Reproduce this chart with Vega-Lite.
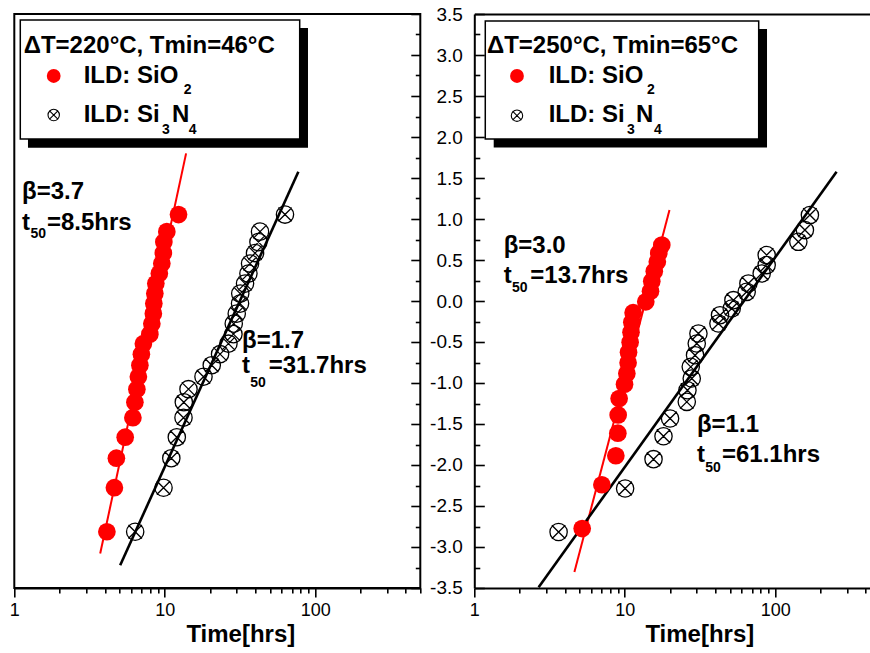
{
  "$schema": "https://vega.github.io/schema/vega-lite/v6.json",
  "padding": {"left": 7.3, "top": 5, "right": 0, "bottom": 0},
  "background": "white",
  "config": {
    "view": {"stroke": "black", "strokeWidth": 2},
    "font": "Liberation Sans",
    "axis": {"domainColor": "black", "tickColor": "black", "labelColor": "black", "titleColor": "black", "labelFont": "Liberation Sans", "titleFont": "Liberation Sans", "grid": false},
    "text": {"font": "Liberation Sans"}
  },
  "datasets": {
    "L_pts": [
      {"material": "SiO2", "t": 4.126, "W": -2.814},
      {"material": "SiO2", "t": 4.628, "W": -2.277},
      {"material": "SiO2", "t": 4.771, "W": -1.917},
      {"material": "SiO2", "t": 5.459, "W": -1.661},
      {"material": "SiO2", "t": 6.142, "W": -1.423},
      {"material": "SiO2", "t": 6.333, "W": -1.234},
      {"material": "SiO2", "t": 6.529, "W": -1.075},
      {"material": "SiO2", "t": 6.680, "W": -0.923},
      {"material": "SiO2", "t": 6.835, "W": -0.783},
      {"material": "SiO2", "t": 6.994, "W": -0.648},
      {"material": "SiO2", "t": 7.211, "W": -0.520},
      {"material": "SiO2", "t": 7.962, "W": -0.404},
      {"material": "SiO2", "t": 8.209, "W": -0.276},
      {"material": "SiO2", "t": 8.400, "W": -0.154},
      {"material": "SiO2", "t": 8.465, "W": -0.032},
      {"material": "SiO2", "t": 8.596, "W": 0.090},
      {"material": "SiO2", "t": 8.728, "W": 0.212},
      {"material": "SiO2", "t": 9.208, "W": 0.334},
      {"material": "SiO2", "t": 9.565, "W": 0.456},
      {"material": "SiO2", "t": 9.788, "W": 0.584},
      {"material": "SiO2", "t": 9.863, "W": 0.718},
      {"material": "SiO2", "t": 10.325, "W": 0.846},
      {"material": "SiO2", "t": 12.35, "W": 1.054},
      {"material": "Si3N4", "t": 6.362, "W": -2.814},
      {"material": "Si3N4", "t": 9.818, "W": -2.277},
      {"material": "Si3N4", "t": 11.06, "W": -1.917},
      {"material": "Si3N4", "t": 12.03, "W": -1.661},
      {"material": "Si3N4", "t": 13.33, "W": -1.423},
      {"material": "Si3N4", "t": 13.39, "W": -1.234},
      {"material": "Si3N4", "t": 14.39, "W": -1.075},
      {"material": "Si3N4", "t": 18.10, "W": -0.923},
      {"material": "Si3N4", "t": 20.54, "W": -0.783},
      {"material": "Si3N4", "t": 23.33, "W": -0.648},
      {"material": "Si3N4", "t": 26.52, "W": -0.520},
      {"material": "Si3N4", "t": 28.63, "W": -0.404},
      {"material": "Si3N4", "t": 28.76, "W": -0.276},
      {"material": "Si3N4", "t": 30.11, "W": -0.154},
      {"material": "Si3N4", "t": 31.67, "W": -0.032},
      {"material": "Si3N4", "t": 31.77, "W": 0.090},
      {"material": "Si3N4", "t": 34.19, "W": 0.212},
      {"material": "Si3N4", "t": 36.01, "W": 0.334},
      {"material": "Si3N4", "t": 36.92, "W": 0.456},
      {"material": "Si3N4", "t": 39.84, "W": 0.584},
      {"material": "Si3N4", "t": 41.97, "W": 0.718},
      {"material": "Si3N4", "t": 43.00, "W": 0.846},
      {"material": "Si3N4", "t": 63.02, "W": 1.054}
    ],
    "R_pts": [
      {"material": "SiO2", "t": 5.213, "W": -2.775},
      {"material": "SiO2", "t": 7.047, "W": -2.241},
      {"material": "SiO2", "t": 8.728, "W": -1.887},
      {"material": "SiO2", "t": 9.000, "W": -1.612},
      {"material": "SiO2", "t": 9.042, "W": -1.389},
      {"material": "SiO2", "t": 9.180, "W": -1.189},
      {"material": "SiO2", "t": 9.970, "W": -1.014},
      {"material": "SiO2", "t": 10.33, "W": -0.884},
      {"material": "SiO2", "t": 10.53, "W": -0.752},
      {"material": "SiO2", "t": 10.60, "W": -0.624},
      {"material": "SiO2", "t": 10.86, "W": -0.502},
      {"material": "SiO2", "t": 11.01, "W": -0.380},
      {"material": "SiO2", "t": 11.15, "W": -0.258},
      {"material": "SiO2", "t": 11.37, "W": -0.142},
      {"material": "SiO2", "t": 13.80, "W": -0.010},
      {"material": "SiO2", "t": 14.84, "W": 0.120},
      {"material": "SiO2", "t": 15.13, "W": 0.242},
      {"material": "SiO2", "t": 15.72, "W": 0.364},
      {"material": "SiO2", "t": 16.47, "W": 0.480},
      {"material": "SiO2", "t": 16.84, "W": 0.584},
      {"material": "SiO2", "t": 17.64, "W": 0.682},
      {"material": "Si3N4", "t": 3.634, "W": -2.817},
      {"material": "Si3N4", "t": 10.06, "W": -2.287},
      {"material": "Si3N4", "t": 15.54, "W": -1.929},
      {"material": "Si3N4", "t": 18.10, "W": -1.649},
      {"material": "Si3N4", "t": 20.02, "W": -1.433},
      {"material": "Si3N4", "t": 25.85, "W": -1.230},
      {"material": "Si3N4", "t": 26.12, "W": -1.088},
      {"material": "Si3N4", "t": 27.89, "W": -0.945},
      {"material": "Si3N4", "t": 27.47, "W": -0.803},
      {"material": "Si3N4", "t": 29.34, "W": -0.661},
      {"material": "Si3N4", "t": 30.11, "W": -0.518},
      {"material": "Si3N4", "t": 30.90, "W": -0.396},
      {"material": "Si3N4", "t": 41.97, "W": -0.274},
      {"material": "Si3N4", "t": 43.00, "W": -0.173},
      {"material": "Si3N4", "t": 51.43, "W": -0.091},
      {"material": "Si3N4", "t": 52.77, "W": 0.010},
      {"material": "Si3N4", "t": 64.68, "W": 0.112},
      {"material": "Si3N4", "t": 66.38, "W": 0.214},
      {"material": "Si3N4", "t": 81.36, "W": 0.336},
      {"material": "Si3N4", "t": 87.82, "W": 0.438},
      {"material": "Si3N4", "t": 87.82, "W": 0.560},
      {"material": "Si3N4", "t": 142.6, "W": 0.722},
      {"material": "Si3N4", "t": 157.7, "W": 0.865},
      {"material": "Si3N4", "t": 170.2, "W": 1.048}
    ],
    "L_lines": [
      {"material": "SiO2", "t": 3.724, "W": -3.080},
      {"material": "SiO2", "t": 13.87, "W": 1.800},
      {"material": "Si3N4", "t": 5.056, "W": -3.223},
      {"material": "Si3N4", "t": 77.34, "W": 1.576}
    ],
    "R_lines": [
      {"material": "SiO2", "t": 4.628, "W": -3.305},
      {"material": "SiO2", "t": 19.84, "W": 1.109},
      {"material": "Si3N4", "t": 2.677, "W": -3.49},
      {"material": "Si3N4", "t": 256.1, "W": 1.576}
    ],
    "L_box": [
      {"part": "shadow", "t1": 1.233, "t2": 89.62, "W1": 3.329, "W2": 1.870},
      {"part": "box", "t1": 1.096, "t2": 78.93, "W1": 3.427, "W2": 1.976}
    ],
    "R_box": [
      {"part": "shadow", "t1": 1.346, "t2": 88.28, "W1": 3.317, "W2": 1.872},
      {"part": "box", "t1": 1.183, "t2": 77.73, "W1": 3.415, "W2": 1.976}
    ],
    "L_sym": [
      {"material": "SiO2", "t": 1.828, "W": 2.744},
      {"material": "Si3N4", "t": 1.828, "W": 2.268}
    ],
    "R_sym": [
      {"material": "SiO2", "t": 1.922, "W": 2.744},
      {"material": "Si3N4", "t": 1.922, "W": 2.260}
    ],
    "L_text": [
      {"role": "legend", "label": "ΔT=220°C, Tmin=46°C", "t": 1.155, "W": 3.021},
      {"role": "legend", "label": "ILD: SiO", "t": 2.893, "W": 2.655},
      {"role": "legend", "label": "ILD: Si", "t": 2.893, "W": 2.179},
      {"role": "legend", "label": "N", "t": 11.18, "W": 2.179},
      {"role": "legend_sub", "label": "2", "t": 13.37, "W": 2.524},
      {"role": "legend_sub", "label": "3", "t": 9.592, "W": 2.037},
      {"role": "legend_sub", "label": "4", "t": 14.43, "W": 2.037},
      {"role": "note", "label": "β=3.7", "t": 1.125, "W": 1.244},
      {"role": "note", "label": "t", "t": 1.125, "W": 0.866},
      {"role": "note", "label": "=8.5hrs", "t": 1.650, "W": 0.866},
      {"role": "note", "label": "β=1.7", "t": 32.64, "W": -0.577},
      {"role": "note", "label": "t", "t": 32.64, "W": -0.882},
      {"role": "note", "label": "=31.7hrs", "t": 49.12, "W": -0.882},
      {"role": "note_sub", "label": "50", "t": 1.281, "W": 0.768},
      {"role": "note_sub", "label": "50", "t": 37.06, "W": -1.045}
    ],
    "R_text": [
      {"role": "legend", "label": "ΔT=250°C, Tmin=65°C", "t": 1.214, "W": 3.021},
      {"role": "legend", "label": "ILD: SiO", "t": 3.123, "W": 2.655},
      {"role": "legend", "label": "ILD: Si", "t": 3.123, "W": 2.179},
      {"role": "legend", "label": "N", "t": 11.88, "W": 2.179},
      {"role": "legend_sub", "label": "2", "t": 14.06, "W": 2.524},
      {"role": "legend_sub", "label": "3", "t": 10.35, "W": 2.037},
      {"role": "legend_sub", "label": "4", "t": 15.65, "W": 2.037},
      {"role": "note", "label": "β=3.0", "t": 1.568, "W": 0.582},
      {"role": "note", "label": "t", "t": 1.568, "W": 0.216},
      {"role": "note", "label": "=13.7hrs", "t": 2.357, "W": 0.216},
      {"role": "note", "label": "β=1.1", "t": 30.22, "W": -1.594},
      {"role": "note", "label": "t", "t": 30.22, "W": -1.960},
      {"role": "note", "label": "=61.1hrs", "t": 44.32, "W": -1.960},
      {"role": "note_sub", "label": "50", "t": 1.781, "W": 0.110},
      {"role": "note_sub", "label": "50", "t": 34.32, "W": -2.082}
    ]
  },
  "bounds": "flush",
  "spacing": 54,
  "hconcat": [
    {
      "width": 406,
      "height": 574,
      "resolve": {"axis": {"x": "independent", "y": "independent"}},
      "layer": [
        {
          "data": {"name": "L_box"},
          "transform": [{"filter": "datum.part === 'shadow'"}],
          "mark": {"type": "rect", "fill": "black"},
          "encoding": {
            "x": {"field": "t1", "type": "quantitative", "scale": {"type": "log", "domain": [1, 500], "nice": false}, "axis": null},
            "x2": {"field": "t2"},
            "y": {"field": "W1", "type": "quantitative", "scale": {"domain": [-3.5, 3.5], "nice": false, "zero": false}, "axis": null},
            "y2": {"field": "W2"}
          }
        },
        {
          "data": {"name": "L_box"},
          "transform": [{"filter": "datum.part === 'box'"}],
          "mark": {"type": "rect", "fill": "white", "stroke": "black", "strokeWidth": 1.5},
          "encoding": {
            "x": {"field": "t1", "type": "quantitative", "scale": {"type": "log", "domain": [1, 500], "nice": false}, "axis": null},
            "x2": {"field": "t2"},
            "y": {"field": "W1", "type": "quantitative", "scale": {"domain": [-3.5, 3.5], "nice": false, "zero": false}, "axis": null},
            "y2": {"field": "W2"}
          }
        },
        {
          "data": {"name": "L_lines"},
          "transform": [{"filter": "datum.material === 'SiO2'"}],
          "mark": {"type": "line", "color": "#ff0000", "strokeWidth": 2},
          "encoding": {
            "x": {"field": "t", "type": "quantitative", "scale": {"type": "log", "domain": [1, 500], "nice": false}, "axis": null},
            "y": {"field": "W", "type": "quantitative", "scale": {"domain": [-3.5, 3.5], "nice": false, "zero": false}, "axis": null}
          }
        },
        {
          "data": {"name": "L_lines"},
          "transform": [{"filter": "datum.material === 'Si3N4'"}],
          "mark": {"type": "line", "color": "black", "strokeWidth": 2.6},
          "encoding": {
            "x": {"field": "t", "type": "quantitative", "scale": {"type": "log", "domain": [1, 500], "nice": false}, "axis": null},
            "y": {"field": "W", "type": "quantitative", "scale": {"domain": [-3.5, 3.5], "nice": false, "zero": false}, "axis": null}
          }
        },
        {
          "data": {"name": "L_pts"},
          "transform": [{"filter": "datum.material === 'Si3N4'"}],
          "mark": {"type": "point", "shape": "M1,0A1,1,0,1,1,-1,0A1,1,0,1,1,1,0Z M-0.78,-0.78L0.78,0.78M-0.78,0.78L0.78,-0.78", "filled": false, "color": "black", "size": 300, "strokeWidth": 1.3, "opacity": 1},
          "encoding": {
            "x": {"field": "t", "type": "quantitative", "scale": {"type": "log", "domain": [1, 500], "nice": false},
              "axis": {"orient": "bottom", "values": [2, 3, 4, 5, 6, 7, 8, 9, 20, 30, 40, 50, 60, 70, 80, 90, 200, 300, 400, 500], "tickSize": 5, "tickWidth": 1.6, "domain": false, "labels": false, "title": null}},
            "y": {"field": "W", "type": "quantitative", "scale": {"domain": [-3.5, 3.5], "nice": false, "zero": false},
              "axis": {"orient": "right", "values": [-3.25, -2.75, -2.25, -1.75, -1.25, -0.75, -0.25, 0.25, 0.75, 1.25, 1.75, 2.25, 2.75, 3.25], "tickSize": -5, "tickWidth": 1.6, "domain": false, "labels": false, "title": null}}
          }
        },
        {
          "data": {"name": "L_pts"},
          "transform": [{"filter": "datum.material === 'SiO2'"}],
          "mark": {"type": "point", "shape": "circle", "filled": true, "color": "#ff0000", "size": 313, "strokeWidth": 0, "opacity": 1},
          "encoding": {
            "x": {"field": "t", "type": "quantitative", "scale": {"type": "log", "domain": [1, 500], "nice": false},
              "axis": {"orient": "bottom", "values": [1, 10, 100], "format": "d", "tickSize": 9, "tickWidth": 1.6, "domain": true, "domainWidth": 2, "labelFontSize": 18, "labelPadding": 5, "labelFlush": false, "labelOverlap": false, "title": "Time[hrs]", "titleFontSize": 24, "titleFontWeight": "bold", "titleX": 226, "titleY": 54, "titleBaseline": "alphabetic", "titleAlign": "center"}},
            "y": {"field": "W", "type": "quantitative", "scale": {"domain": [-3.5, 3.5], "nice": false, "zero": false},
              "axis": {"orient": "right", "values": [-3.5, -3, -2.5, -2, -1.5, -1, -0.5, 0, 0.5, 1, 1.5, 2, 2.5, 3, 3.5], "tickSize": -9.5, "tickWidth": 1.6, "domain": false, "labels": false, "title": null}}
          }
        },
        {
          "data": {"name": "L_sym"},
          "transform": [{"filter": "datum.material === 'SiO2'"}],
          "mark": {"type": "point", "shape": "circle", "filled": true, "color": "#ff0000", "size": 190, "strokeWidth": 0, "opacity": 1},
          "encoding": {
            "x": {"field": "t", "type": "quantitative", "scale": {"type": "log", "domain": [1, 500], "nice": false}, "axis": null},
            "y": {"field": "W", "type": "quantitative", "scale": {"domain": [-3.5, 3.5], "nice": false, "zero": false}, "axis": null}
          }
        },
        {
          "data": {"name": "L_sym"},
          "transform": [{"filter": "datum.material === 'Si3N4'"}],
          "mark": {"type": "point", "shape": "M1,0A1,1,0,1,1,-1,0A1,1,0,1,1,1,0Z M-0.78,-0.78L0.78,0.78M-0.78,0.78L0.78,-0.78", "filled": false, "color": "black", "size": 130, "strokeWidth": 1.1, "opacity": 1},
          "encoding": {
            "x": {"field": "t", "type": "quantitative", "scale": {"type": "log", "domain": [1, 500], "nice": false}, "axis": null},
            "y": {"field": "W", "type": "quantitative", "scale": {"domain": [-3.5, 3.5], "nice": false, "zero": false}, "axis": null}
          }
        },
        {
          "data": {"name": "L_text"},
          "transform": [{"filter": "datum.role === 'legend'"}],
          "mark": {"type": "text", "align": "left", "baseline": "alphabetic", "fontSize": 24, "fontWeight": "bold", "color": "black"},
          "encoding": {
            "x": {"field": "t", "type": "quantitative", "scale": {"type": "log", "domain": [1, 500], "nice": false}, "axis": null},
            "y": {"field": "W", "type": "quantitative", "scale": {"domain": [-3.5, 3.5], "nice": false, "zero": false}, "axis": null},
            "text": {"field": "label"}
          }
        },
        {
          "data": {"name": "L_text"},
          "transform": [{"filter": "datum.role === 'legend_sub' || datum.role === 'note_sub'"}],
          "mark": {"type": "text", "align": "left", "baseline": "alphabetic", "fontSize": 14, "fontWeight": "bold", "color": "black"},
          "encoding": {
            "x": {"field": "t", "type": "quantitative", "scale": {"type": "log", "domain": [1, 500], "nice": false}, "axis": null},
            "y": {"field": "W", "type": "quantitative", "scale": {"domain": [-3.5, 3.5], "nice": false, "zero": false}, "axis": null},
            "text": {"field": "label"}
          }
        },
        {
          "data": {"name": "L_text"},
          "transform": [{"filter": "datum.role === 'note'"}],
          "mark": {"type": "text", "align": "left", "baseline": "alphabetic", "fontSize": 24, "fontWeight": "bold", "color": "black"},
          "encoding": {
            "x": {"field": "t", "type": "quantitative", "scale": {"type": "log", "domain": [1, 500], "nice": false}, "axis": null},
            "y": {"field": "W", "type": "quantitative", "scale": {"domain": [-3.5, 3.5], "nice": false, "zero": false}, "axis": null},
            "text": {"field": "label"}
          }
        }
      ]
    },
    {
      "width": 397,
      "height": 574,
      "view": {"stroke": null},
      "resolve": {"axis": {"x": "independent", "y": "independent"}},
      "layer": [
        {
          "data": {"name": "R_box"},
          "transform": [{"filter": "datum.part === 'shadow'"}],
          "mark": {"type": "rect", "fill": "black"},
          "encoding": {
            "x": {"field": "t1", "type": "quantitative", "scale": {"type": "log", "domain": [1, 435.6], "nice": false}, "axis": null},
            "x2": {"field": "t2"},
            "y": {"field": "W1", "type": "quantitative", "scale": {"domain": [-3.5, 3.5], "nice": false, "zero": false}, "axis": null},
            "y2": {"field": "W2"}
          }
        },
        {
          "data": {"name": "R_box"},
          "transform": [{"filter": "datum.part === 'box'"}],
          "mark": {"type": "rect", "fill": "white", "stroke": "black", "strokeWidth": 1.5},
          "encoding": {
            "x": {"field": "t1", "type": "quantitative", "scale": {"type": "log", "domain": [1, 435.6], "nice": false}, "axis": null},
            "x2": {"field": "t2"},
            "y": {"field": "W1", "type": "quantitative", "scale": {"domain": [-3.5, 3.5], "nice": false, "zero": false}, "axis": null},
            "y2": {"field": "W2"}
          }
        },
        {
          "data": {"name": "R_lines"},
          "transform": [{"filter": "datum.material === 'SiO2'"}],
          "mark": {"type": "line", "color": "#ff0000", "strokeWidth": 2},
          "encoding": {
            "x": {"field": "t", "type": "quantitative", "scale": {"type": "log", "domain": [1, 435.6], "nice": false},
              "axis": {"orient": "top", "domain": true, "domainWidth": 2, "ticks": false, "labels": false, "title": null}},
            "y": {"field": "W", "type": "quantitative", "scale": {"domain": [-3.5, 3.5], "nice": false, "zero": false},
              "axis": {"orient": "left", "values": [-3.25, -2.75, -2.25, -1.75, -1.25, -0.75, -0.25, 0.25, 0.75, 1.25, 1.75, 2.25, 2.75, 3.25], "tickSize": -5.5, "tickWidth": 1.6, "domain": false, "labels": false, "title": null}}
          }
        },
        {
          "data": {"name": "R_lines"},
          "transform": [{"filter": "datum.material === 'Si3N4'"}],
          "mark": {"type": "line", "color": "black", "strokeWidth": 2.6},
          "encoding": {
            "x": {"field": "t", "type": "quantitative", "scale": {"type": "log", "domain": [1, 435.6], "nice": false}, "axis": null},
            "y": {"field": "W", "type": "quantitative", "scale": {"domain": [-3.5, 3.5], "nice": false, "zero": false}, "axis": null}
          }
        },
        {
          "data": {"name": "R_pts"},
          "transform": [{"filter": "datum.material === 'Si3N4'"}],
          "mark": {"type": "point", "shape": "M1,0A1,1,0,1,1,-1,0A1,1,0,1,1,1,0Z M-0.78,-0.78L0.78,0.78M-0.78,0.78L0.78,-0.78", "filled": false, "color": "black", "size": 300, "strokeWidth": 1.3, "opacity": 1},
          "encoding": {
            "x": {"field": "t", "type": "quantitative", "scale": {"type": "log", "domain": [1, 435.6], "nice": false},
              "axis": {"orient": "bottom", "values": [2, 3, 4, 5, 6, 7, 8, 9, 20, 30, 40, 50, 60, 70, 80, 90, 200, 300, 400], "tickSize": 5, "tickWidth": 1.6, "domain": false, "labels": false, "title": null}},
            "y": {"field": "W", "type": "quantitative", "scale": {"domain": [-3.5, 3.5], "nice": false, "zero": false},
              "axis": {"orient": "left", "values": [-3.5, -3, -2.5, -2, -1.5, -1, -0.5, 0, 0.5, 1, 1.5, 2, 2.5, 3, 3.5], "tickSize": -10, "tickWidth": 1.6, "domain": false, "labels": false, "title": null}}
          }
        },
        {
          "data": {"name": "R_pts"},
          "transform": [{"filter": "datum.material === 'SiO2'"}],
          "mark": {"type": "point", "shape": "circle", "filled": true, "color": "#ff0000", "size": 313, "strokeWidth": 0, "opacity": 1},
          "encoding": {
            "x": {"field": "t", "type": "quantitative", "scale": {"type": "log", "domain": [1, 435.6], "nice": false},
              "axis": {"orient": "bottom", "values": [1, 10, 100], "format": "d", "tickSize": 9, "tickWidth": 1.6, "domain": true, "domainWidth": 2, "labelFontSize": 18, "labelPadding": 5, "labelFlush": false, "labelOverlap": false, "title": "Time[hrs]", "titleFontSize": 24, "titleFontWeight": "bold", "titleX": 225, "titleY": 54, "titleBaseline": "alphabetic", "titleAlign": "center"}},
            "y": {"field": "W", "type": "quantitative", "scale": {"domain": [-3.5, 3.5], "nice": false, "zero": false},
              "axis": {"orient": "left", "values": [-3.5, -3, -2.5, -2, -1.5, -1, -0.5, 0, 0.5, 1, 1.5, 2, 2.5, 3, 3.5], "ticks": false, "domain": true, "domainWidth": 2, "labelFontSize": 19, "labelPadding": 12, "labelFlush": false, "labelOverlap": false, "labelExpr": "replace(format(datum.value, '.1f'), '−', '-')", "title": null}}
          }
        },
        {
          "data": {"name": "R_sym"},
          "transform": [{"filter": "datum.material === 'SiO2'"}],
          "mark": {"type": "point", "shape": "circle", "filled": true, "color": "#ff0000", "size": 190, "strokeWidth": 0, "opacity": 1},
          "encoding": {
            "x": {"field": "t", "type": "quantitative", "scale": {"type": "log", "domain": [1, 435.6], "nice": false}, "axis": null},
            "y": {"field": "W", "type": "quantitative", "scale": {"domain": [-3.5, 3.5], "nice": false, "zero": false}, "axis": null}
          }
        },
        {
          "data": {"name": "R_sym"},
          "transform": [{"filter": "datum.material === 'Si3N4'"}],
          "mark": {"type": "point", "shape": "M1,0A1,1,0,1,1,-1,0A1,1,0,1,1,1,0Z M-0.78,-0.78L0.78,0.78M-0.78,0.78L0.78,-0.78", "filled": false, "color": "black", "size": 130, "strokeWidth": 1.1, "opacity": 1},
          "encoding": {
            "x": {"field": "t", "type": "quantitative", "scale": {"type": "log", "domain": [1, 435.6], "nice": false}, "axis": null},
            "y": {"field": "W", "type": "quantitative", "scale": {"domain": [-3.5, 3.5], "nice": false, "zero": false}, "axis": null}
          }
        },
        {
          "data": {"name": "R_text"},
          "transform": [{"filter": "datum.role === 'legend'"}],
          "mark": {"type": "text", "align": "left", "baseline": "alphabetic", "fontSize": 24, "fontWeight": "bold", "color": "black"},
          "encoding": {
            "x": {"field": "t", "type": "quantitative", "scale": {"type": "log", "domain": [1, 435.6], "nice": false}, "axis": null},
            "y": {"field": "W", "type": "quantitative", "scale": {"domain": [-3.5, 3.5], "nice": false, "zero": false}, "axis": null},
            "text": {"field": "label"}
          }
        },
        {
          "data": {"name": "R_text"},
          "transform": [{"filter": "datum.role === 'legend_sub' || datum.role === 'note_sub'"}],
          "mark": {"type": "text", "align": "left", "baseline": "alphabetic", "fontSize": 14, "fontWeight": "bold", "color": "black"},
          "encoding": {
            "x": {"field": "t", "type": "quantitative", "scale": {"type": "log", "domain": [1, 435.6], "nice": false}, "axis": null},
            "y": {"field": "W", "type": "quantitative", "scale": {"domain": [-3.5, 3.5], "nice": false, "zero": false}, "axis": null},
            "text": {"field": "label"}
          }
        },
        {
          "data": {"name": "R_text"},
          "transform": [{"filter": "datum.role === 'note'"}],
          "mark": {"type": "text", "align": "left", "baseline": "alphabetic", "fontSize": 24, "fontWeight": "bold", "color": "black"},
          "encoding": {
            "x": {"field": "t", "type": "quantitative", "scale": {"type": "log", "domain": [1, 435.6], "nice": false}, "axis": null},
            "y": {"field": "W", "type": "quantitative", "scale": {"domain": [-3.5, 3.5], "nice": false, "zero": false}, "axis": null},
            "text": {"field": "label"}
          }
        }
      ]
    }
  ]
}
